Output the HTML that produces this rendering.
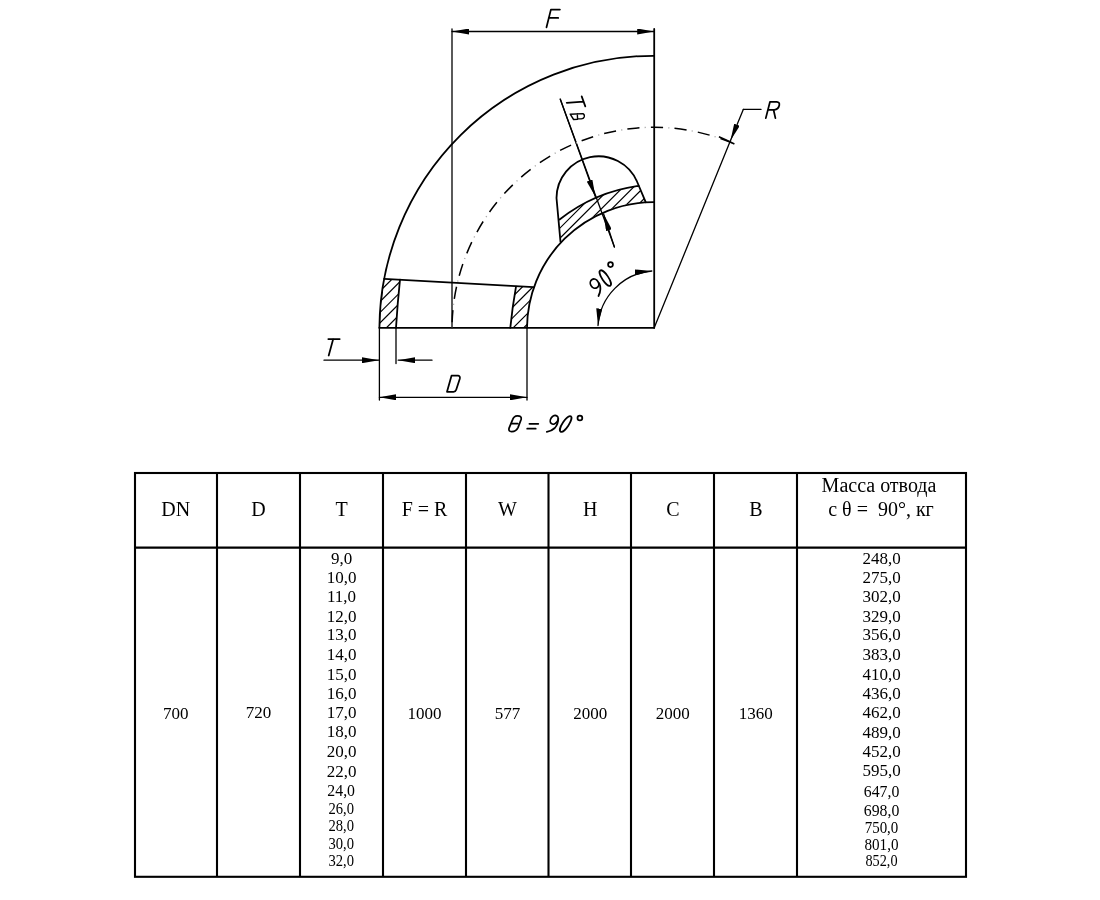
<!DOCTYPE html>
<html><head><meta charset="utf-8">
<style>
html,body{margin:0;padding:0;background:#fff;width:1100px;height:900px;overflow:hidden}
svg{display:block;position:absolute;left:0;top:0;will-change:transform}
.g{font-family:"Liberation Sans",sans-serif;font-style:italic;fill:#000}
.s{font-family:"Liberation Serif",serif;fill:#000}
</style></head><body>
<svg width="1100" height="900" viewBox="0 0 1100 900">
<defs>
<marker id="a" viewBox="0 0 17 6" refX="17" refY="3" markerWidth="17" markerHeight="6" markerUnits="userSpaceOnUse" orient="auto-start-reverse">
<path d="M0,0 L17,3 L0,6 Z" fill="#000"/></marker>
</defs>
<g id="drawing" fill="none" stroke="#000" stroke-linecap="round" stroke-linejoin="round">
<!-- thick outlines -->
<g stroke-width="1.8">
<path d="M379.4,327.8 A274,274 0 0 1 654.2,55.8"/>
<path d="M527,327.8 A126.5,126.5 0 0 1 654.2,202.2"/>
<line x1="654.2" y1="29" x2="654.2" y2="327.8"/>
<line x1="379.4" y1="327.8" x2="654.2" y2="327.8"/>
<path d="M384.1,278.8 L533.6,287.1"/>
<path d="M400,279.6 Q397.5,303 396,327.8"/>
<path d="M516,286.6 Q512.5,306 510.3,327.8"/>
<path d="M560.5,241.8 L556.5,198 A42,42 0 0 1 637,181.5 L645.7,202.2"/>
<path d="M559.6,219.5 A165,165 0 0 1 638.6,185.8"/>
</g>
<!-- thin lines -->
<g stroke-width="1.3">
<line x1="452" y1="29" x2="452" y2="327.8"/>
<line x1="452" y1="31.5" x2="654.2" y2="31.5" marker-start="url(#a)" marker-end="url(#a)"/>
<line x1="379.4" y1="327.8" x2="379.4" y2="400"/>
<line x1="396" y1="327.8" x2="396" y2="363.5"/>
<line x1="527" y1="327.8" x2="527" y2="400"/>
<line x1="379.4" y1="397.3" x2="527" y2="397.3" marker-start="url(#a)" marker-end="url(#a)"/>
<line x1="324" y1="360.2" x2="379" y2="360.2" marker-end="url(#a)"/>
<line x1="432" y1="360.2" x2="398.2" y2="360.2" marker-end="url(#a)"/>
<line x1="654.2" y1="327.8" x2="730.5" y2="140.5" />
<line x1="743.3" y1="109.4" x2="730.5" y2="140.5" marker-end="url(#a)"/>
<line x1="743.3" y1="109.4" x2="761" y2="109.4"/>
<line x1="560.3" y1="99.2" x2="614.4" y2="247"/>
<line x1="560.3" y1="99.2" x2="595.3" y2="196.5" marker-end="url(#a)"/>
<line x1="614.4" y1="247" x2="603.6" y2="214" marker-end="url(#a)"/>
<path d="M598,325.5 A59,59 0 0 1 651.8,271" marker-start="url(#a)" marker-end="url(#a)"/>
<path d="M452,327.5 A202,202 0 0 1 734.4,144" stroke-width="1.5" stroke-linecap="butt" stroke-dasharray="12.2 11.4" stroke-dashoffset="18.3"/>
<path d="M718.9,136.7 A202,202 0 0 1 734.4,144" stroke-width="1.5" stroke-linecap="butt"/>
<path d="M452,327.5 A202,202 0 0 1 734.4,144" stroke-width="1.3" stroke="#aaa" stroke-linecap="butt" stroke-dasharray="1.2 22.4" stroke-dashoffset="0.9"/>
</g>
<!-- hatching -->
<g stroke-width="1.2">
<clipPath id="h1"><path d="M384.1,278.8 L400,279.6 Q397.5,303 396,327.8 L379.4,327.8 A274,274 0 0 1 384.1,278.8 Z"/></clipPath>
<clipPath id="h2"><path d="M516,286.6 L533.6,287.1 A126.5,126.5 0 0 0 527,327.8 L510.3,327.8 Q512.5,306 516,286.6 Z"/></clipPath>
<clipPath id="h3"><path d="M559.6,219.5 A165,165 0 0 1 638.6,185.8 L645.7,202.2 A126.5,126.5 0 0 0 560.5,241.8 Z"/></clipPath>
<g clip-path="url(#h1)">
<path d="M370,290.5 l60,-60 M370,301.2 l60,-60 M370,311.7 l60,-60 M370,322.5 l60,-60 M370,332.9 l60,-60 M370,344.2 l60,-60 M370,354.9 l60,-60"/>
</g>
<g clip-path="url(#h2)">
<path d="M500,298.8 l60,-60 M500,309.3 l60,-60 M500,319.8 l60,-60 M500,330.5 l60,-60 M500,341.0 l60,-60 M500,351.5 l60,-60"/>
</g>
<g clip-path="url(#h3)">
<path d="M550,216.0 l110,-110 M550,227.0 l110,-110 M550,238.0 l110,-110 M550,248.2 l110,-110 M550,260.2 l110,-110 M550,270.7 l110,-110 M550,281.2 l110,-110 M550,292.8 l110,-110 M550,303.5 l110,-110"/>
</g>
</g>
</g>
<!-- drawing labels -->
<g fill="none" stroke="#000" stroke-width="1.75" stroke-linecap="round" stroke-linejoin="round">
<path d="M546.5,27.3 L550.9,9.6 L559.9,9.6 M548.7,17.9 L558.2,17.9"/>
<path d="M765.8,118.1 L770,101.8 L776.8,101.8 Q779.8,102 779.3,105.3 Q778.3,109.6 774.3,109.8 L768.9,109.9 M773.6,110 L775.4,118.1"/>
<path d="M328.3,339 L339.7,339 M333.2,339 L328.7,355.5"/>
<path d="M451.5,375.7 L458.2,375.7 Q460.4,376.1 459.8,378.8 L456.2,389.8 Q455.5,391.8 453.5,391.8 L447,391.8 Z"/>
<path d="M517.2,415.8 Q521.9,415.6 521.2,419.2 L518,427.6 Q516,431.7 511.6,431.6 Q508.3,431.4 509,428.4 L512.6,419.6 Q514,415.9 517.2,415.8 Z M512.2,423.5 L517.6,423.5"/>
<path d="M529.4,423.8 L538.3,423.8 M527.2,428.7 L535.7,428.7"/>
<ellipse cx="554.2" cy="419.8" rx="3.5" ry="4.7" transform="rotate(35 554.2 419.8)"/>
<path d="M558.3,418.6 Q558.2,424.5 554.8,428 Q551.5,431.2 546.8,431.8"/>
<ellipse cx="565.7" cy="424" rx="3.1" ry="9.2" transform="rotate(33.7 565.7 424)"/>
<circle cx="579.9" cy="418" r="2.4"/>
<ellipse cx="605.25" cy="278.1" rx="3.1" ry="9.1" transform="rotate(-33.7 605.25 278.1)"/>
<ellipse cx="594.5" cy="283.6" rx="4" ry="4.8" transform="rotate(-30 594.5 283.6)"/>
<path d="M599.2,283.2 Q602,289 598.5,296"/>
<circle cx="610.5" cy="264.6" r="2.4"/>
<path d="M581.7,96.4 L585.3,106.4 M583.4,101.7 L566.7,102.8"/>
<path d="M570.2,114.2 L583,113.6 Q584.8,114.5 584.2,117 Q583.5,119 581,118.9 L577.6,118.6 M577.3,113.8 L577.6,119.4 L573.6,119.5 L570.2,114.2" stroke-width="1.4"/>
</g>
<!-- table -->
<g stroke="#000" stroke-width="2.1" fill="none">
<rect x="135" y="473" width="831" height="403.8"/>
<line x1="135" y1="547.6" x2="966" y2="547.6"/>
<line x1="217" y1="473" x2="217" y2="876.8"/>
<line x1="300" y1="473" x2="300" y2="876.8"/>
<line x1="383" y1="473" x2="383" y2="876.8"/>
<line x1="466" y1="473" x2="466" y2="876.8"/>
<line x1="548.5" y1="473" x2="548.5" y2="876.8"/>
<line x1="631" y1="473" x2="631" y2="876.8"/>
<line x1="714" y1="473" x2="714" y2="876.8"/>
<line x1="797" y1="473" x2="797" y2="876.8"/>
</g>
<g class="s" font-size="20" text-anchor="middle">
<text x="175.8" y="516">DN</text>
<text x="258.5" y="516">D</text>
<text x="341.5" y="516">T</text>
<text x="424.5" y="516">F = R</text>
<text x="507.5" y="516">W</text>
<text x="590.3" y="516">H</text>
<text x="672.8" y="516">C</text>
<text x="755.8" y="516">B</text>
<text x="879" y="492.4">Масса отвода</text>
<text x="881" y="516.4" xml:space="preserve">с θ =  90°, кг</text>
</g>
<g class="s" font-size="17" text-anchor="middle">
<text x="175.8" y="719">700</text>
<text x="258.5" y="718">720</text>
<text x="424.5" y="718.6">1000</text>
<text x="507.5" y="718.6">577</text>
<text x="590.3" y="718.6">2000</text>
<text x="672.8" y="718.6">2000</text>
<text x="755.8" y="718.6">1360</text>
</g>
<g class="s" font-size="17" text-anchor="middle">
<text x="341.5" y="563.9">9,0</text>
<text x="341.5" y="582.8">10,0</text>
<text x="341.5" y="602">11,0</text>
<text x="341.5" y="621.5">12,0</text>
<text x="341.5" y="640.4">13,0</text>
<text x="341.5" y="660.2">14,0</text>
<text x="341.5" y="680">15,0</text>
<text x="341.5" y="699">16,0</text>
<text x="341.5" y="718">17,0</text>
<text x="341.5" y="737.4">18,0</text>
<text x="341.5" y="757">20,0</text>
<text x="341.5" y="777">22,0</text>
<text transform="translate(341.2,795.6) scale(0.93,1)">24,0</text>
<text transform="translate(341.2,813.7) scale(0.86,1)">26,0</text>
<text transform="translate(341.2,831) scale(0.86,1)">28,0</text>
<text transform="translate(341.2,849) scale(0.86,1)">30,0</text>
<text transform="translate(341.2,866) scale(0.86,1)">32,0</text>
<text x="881.7" y="564">248,0</text>
<text x="881.7" y="582.8">275,0</text>
<text x="881.7" y="602">302,0</text>
<text x="881.7" y="621.5">329,0</text>
<text x="881.7" y="640.4">356,0</text>
<text x="881.7" y="660.3">383,0</text>
<text x="881.7" y="679.6">410,0</text>
<text x="881.7" y="698.5">436,0</text>
<text x="881.7" y="718">462,0</text>
<text x="881.7" y="737.6">489,0</text>
<text x="881.7" y="757">452,0</text>
<text x="881.7" y="776.4">595,0</text>
<text transform="translate(881.5,797) scale(0.93,1)">647,0</text>
<text transform="translate(881.5,816) scale(0.93,1)">698,0</text>
<text transform="translate(881.5,833) scale(0.88,1)">750,0</text>
<text transform="translate(881.5,850) scale(0.89,1)">801,0</text>
<text transform="translate(881.5,866.4) scale(0.84,1)">852,0</text>
</g>
</svg>
</body></html>
